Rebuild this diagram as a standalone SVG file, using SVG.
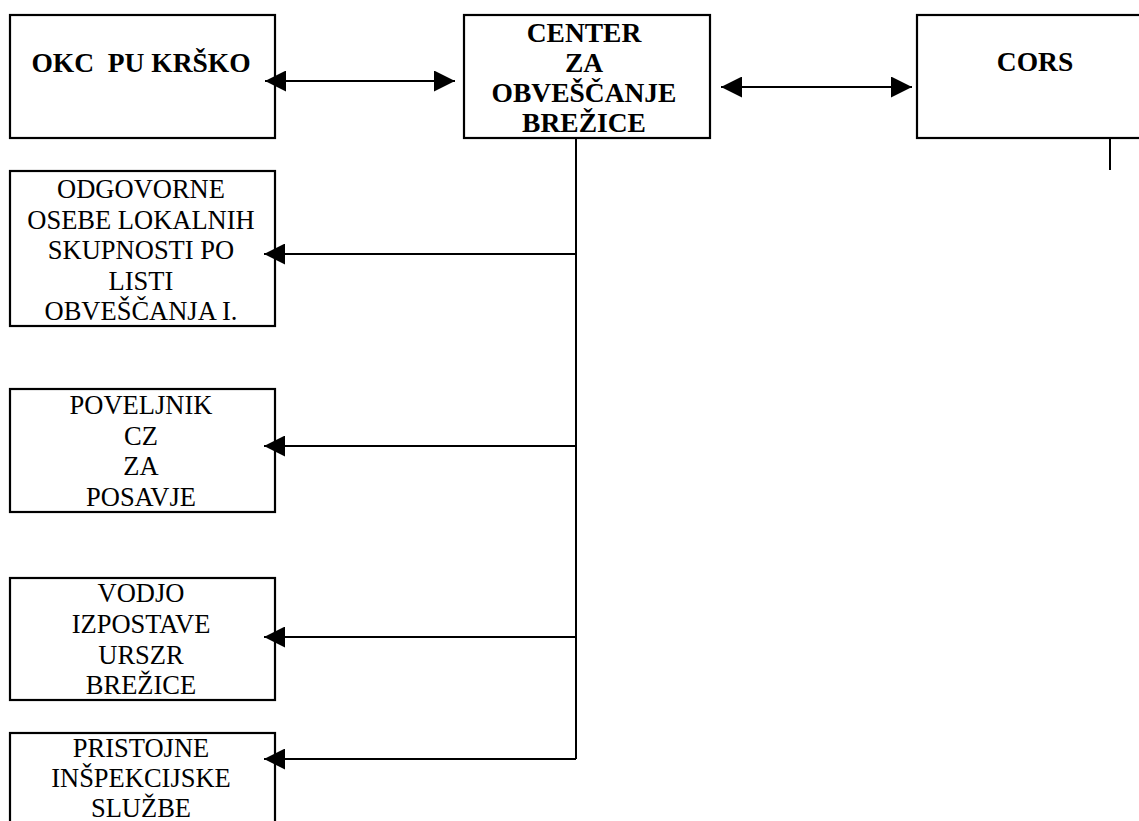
<svg xmlns="http://www.w3.org/2000/svg" width="1139" height="821" viewBox="0 0 1139 821">
<style>
.box{fill:#fff;stroke:#000;stroke-width:2.2}
.b{font-family:"Liberation Serif","Times New Roman",serif;font-weight:bold;font-size:27.5px;text-anchor:middle;fill:#000;white-space:pre}
.r{font-family:"Liberation Serif","Times New Roman",serif;font-size:26.5px;text-anchor:middle;fill:#000}
.c{stroke:#000;stroke-width:2;fill:none}
</style>
<defs>
<marker id="ah" markerUnits="userSpaceOnUse" markerWidth="21" markerHeight="21" refX="21" refY="10.5" orient="auto-start-reverse">
<path d="M0,0 L21,10.5 L0,21 z" fill="#000"/>
</marker>
</defs>
<rect width="1139" height="821" fill="#fff"/>
<g id="okc">
<rect class="box" x="10" y="15" width="265" height="123"/>
<text class="b" x="141" y="72" xml:space="preserve">OKC  PU KRŠKO</text>
</g>
<g id="center">
<rect class="box" x="464" y="15" width="246" height="123"/>
<text class="b" x="584" y="42">CENTER</text>
<text class="b" x="584" y="72">ZA</text>
<text class="b" x="584" y="102">OBVEŠČANJE</text>
<text class="b" x="584" y="132">BREŽICE</text>
</g>
<g id="cors">
<rect class="box" x="917" y="15" width="240" height="123"/>
<text class="b" x="1035" y="71">CORS</text>
</g>
<g id="odgovorne">
<rect class="box" x="10" y="171" width="265" height="155"/>
<text class="r" x="141" y="198">ODGOVORNE</text>
<text class="r" x="141" y="228.5">OSEBE LOKALNIH</text>
<text class="r" x="141" y="259">SKUPNOSTI PO</text>
<text class="r" x="141" y="289.5">LISTI</text>
<text class="r" x="141" y="320">OBVEŠČANJA I.</text>
</g>
<g id="poveljnik">
<rect class="box" x="10" y="389" width="265" height="123"/>
<text class="r" x="141" y="414">POVELJNIK</text>
<text class="r" x="141" y="445">CZ</text>
<text class="r" x="141" y="475">ZA</text>
<text class="r" x="141" y="506">POSAVJE</text>
</g>
<g id="vodjo">
<rect class="box" x="10" y="578" width="265" height="122"/>
<text class="r" x="141" y="602">VODJO</text>
<text class="r" x="141" y="633">IZPOSTAVE</text>
<text class="r" x="141" y="664">URSZR</text>
<text class="r" x="141" y="694">BREŽICE</text>
</g>
<g id="pristojne">
<rect class="box" x="10" y="733" width="265" height="110"/>
<text class="r" x="141" y="757">PRISTOJNE</text>
<text class="r" x="141" y="787">INŠPEKCIJSKE</text>
<text class="r" x="141" y="817">SLUŽBE</text>
</g>
<g id="connectors">
<line class="c" x1="265" y1="81" x2="455" y2="81" marker-start="url(#ah)" marker-end="url(#ah)"/>
<line class="c" x1="721" y1="87" x2="912" y2="87" marker-start="url(#ah)" marker-end="url(#ah)"/>
<line class="c" x1="576" y1="138" x2="576" y2="759"/>
<line class="c" x1="576" y1="254" x2="264" y2="254" marker-end="url(#ah)"/>
<line class="c" x1="576" y1="446" x2="264" y2="446" marker-end="url(#ah)"/>
<line class="c" x1="576" y1="637" x2="264" y2="637" marker-end="url(#ah)"/>
<line class="c" x1="576" y1="759" x2="264" y2="759" marker-end="url(#ah)"/>
<line class="c" x1="1110" y1="138" x2="1110" y2="170"/>
</g>
</svg>
